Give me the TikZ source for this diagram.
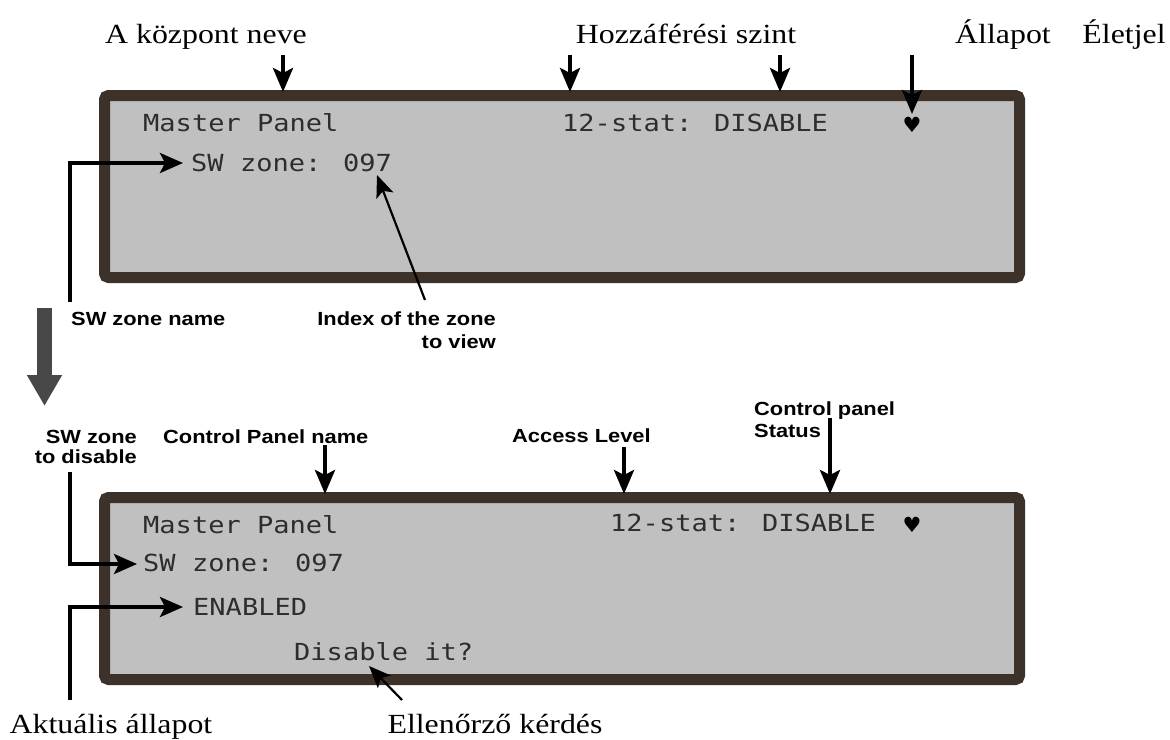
\documentclass[tikz,border=0pt]{standalone}
\usepackage{fontspec}
\usepackage{graphicx}
\setmainfont{Liberation Serif}
\newfontfamily\lcdfont{DejaVu Sans Mono}
\newfontfamily\labfont{Liberation Sans}
\newfontfamily\symfont{DejaVu Sans}
\usetikzlibrary{arrows.meta}
\newcommand\hs[1]{\scalebox{1.15}[1]{#1}}
\definecolor{brd}{RGB}{60,50,42}
\definecolor{lcdbg}{RGB}{192,192,192}
\definecolor{lcdtxt}{RGB}{45,45,45}
\definecolor{bigarrow}{RGB}{72,72,72}
\tikzset{
  panel/.style={draw=brd, fill=lcdbg, line width=11pt, rounded corners=4pt,
    minimum width=915pt, minimum height=182pt, inner sep=0pt},
  lcd/.style={font=\lcdfont\fontsize{23.5}{24}\selectfont, text=lcdtxt, inner sep=0pt, anchor=west},
  heart/.style={font=\symfont\fontsize{21}{21}\selectfont, inner sep=0pt},
  serlab/.style={font=\fontsize{27.7}{30}\selectfont, inner sep=0pt, anchor=base},
  sanslab/.style={font=\labfont\bfseries\fontsize{19}{20}\selectfont, inner sep=0pt},
  ptr/.style={line width=4pt, -{Stealth[length=24pt,width=20pt,inset=5pt]}},
  elbow/.style={line width=3.5pt, -{Stealth[length=23pt,width=20pt,inset=5pt]}},
  thin/.style={line width=2.2pt, -{Stealth[length=22pt,width=18pt,inset=5pt]}},
  fat/.style={line width=15pt, draw=bigarrow, -{Triangle[length=31pt,width=33pt]}}
}
\begin{document}
\begin{tikzpicture}[x=1pt,y=-1pt]
\useasboundingbox (0,0) rectangle (1170,739);

% panels
\node[panel] (P1) at (562,186.5) {};
\node[panel] (P2) at (562,588.5) {};

% top panel text
\node[lcd] (t1) at (143,123) {\hs{Master Panel}};
\node[lcd] (t2) at (562,123) {\hs{12-stat: DISABLE}};
\node[heart] (h1) at (912,125) {♥};
\node[lcd] (t3) at (191,163) {\hs{SW zone: 097}};

% bottom panel text
\node[lcd] (b1) at (143,525) {\hs{Master Panel}};
\node[lcd] (b2) at (610,523) {\hs{12-stat: DISABLE}};
\node[heart] (h2) at (912,525) {♥};
\node[lcd] (b3) at (143,563) {\hs{SW zone: 097}};
\node[lcd] (b4) at (193,607) {\hs{ENABLED}};
\node[lcd] (b5) at (294,652) {\hs{Disable it?}};

% serif labels
\node[serlab] (L1) at (206,43) {\hs{A központ neve}};
\node[serlab] (L2) at (686,43) {\hs{Hozzáférési szint}};
\node[serlab] (L3) at (1003,43) {\hs{Állapot}};
\node[serlab] (L4) at (1124,43) {\hs{Életjel}};
\node[serlab] (L5) at (111,733) {\hs{Aktuális állapot}};
\node[serlab] (L6) at (495,733) {\hs{Ellenőrző kérdés}};

% sans labels
\node[sanslab, anchor=base west] (S1) at (71,325) {\hs{SW zone name}};
\node[sanslab, anchor=base east] (S2) at (496,325) {\hs{Index of the zone}};
\node[sanslab, anchor=base east] (S2b) at (496,348) {\hs{to view}};
\node[sanslab, anchor=base east] (S3) at (137,443) {\hs{SW zone}};
\node[sanslab, anchor=base east] (S3b) at (137,463) {\hs{to disable}};
\node[sanslab, anchor=base west] (S4) at (163,443) {\hs{Control Panel name}};
\node[sanslab, anchor=base west] (S5) at (512,442) {\hs{Access Level}};
\node[sanslab, anchor=base west] (S6) at (754,415) {\hs{Control panel}};
\node[sanslab, anchor=base west] (S6b) at (754,437) {\hs{Status}};

% arrow end points
\coordinate (a1s) at (283,55);  \coordinate (a1e) at (283,92);
\coordinate (a2s) at (570,55);  \coordinate (a2e) at (570,92);
\coordinate (a3s) at (780,55);  \coordinate (a3e) at (780,92);
\coordinate (a4s) at (912,55);  \coordinate (a4e) at (912,114);
\coordinate (c1s) at (325,445); \coordinate (c1e) at (325,494);
\coordinate (c2s) at (624,447); \coordinate (c2e) at (624,494);
\coordinate (c3s) at (830,418); \coordinate (c3e) at (830,494);
\coordinate (e1s) at (70,302);  \coordinate (e1e) at (183,163);
\coordinate (e2s) at (70,472);  \coordinate (e2e) at (137,564);
\coordinate (e3s) at (70,700);  \coordinate (e3e) at (183,607);
\coordinate (d1s) at (425,300); \coordinate (d1e) at (377,175);
\coordinate (d2s) at (402,700); \coordinate (d2e) at (369,666);
\coordinate (g1s) at (44.5,308); \coordinate (g1e) at (44.5,406);

% arrows
\draw[ptr] (a1s) -- (a1e);
\draw[ptr] (a2s) -- (a2e);
\draw[ptr] (a3s) -- (a3e);
\draw[ptr] (a4s) -- (a4e);
\draw[ptr] (c1s) -- (c1e);
\draw[ptr] (c2s) -- (c2e);
\draw[ptr] (c3s) -- (c3e);
\draw[elbow] (e1s) |- (e1e);
\draw[elbow] (e2s) |- (e2e);
\draw[elbow] (e3s) |- (e3e);
\draw[thin] (d1s) -- (d1e);
\draw[thin] (d2s) -- (d2e);
\draw[fat] (g1s) -- (g1e);
\end{tikzpicture}
\end{document}
